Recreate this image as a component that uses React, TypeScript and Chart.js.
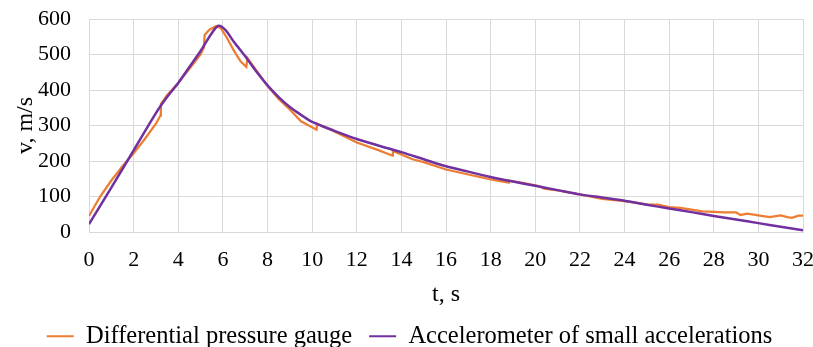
import React, { useEffect, useRef } from "react";
import { Chart, registerables } from "chart.js";

Chart.register(...registerables);

const orangeT = [0, 0.5, 1, 1.5, 2, 2.5, 3, 3.2, 3.22, 3.5, 4, 4.5, 5, 5.15, 5.18, 5.4, 5.7, 5.9, 6.2, 6.5, 6.8, 7.05, 7.1, 7.5, 8, 8.5, 9, 9.5, 10.2, 10.22, 11, 12, 13, 13.6, 13.62, 14.5, 15, 16, 17, 18, 18.8, 18.82, 19.5, 20.2, 20.4, 21, 22, 23, 24, 25, 25.5, 26, 26.5, 27, 27.5, 28, 28.5, 29, 29.2, 29.5, 30, 30.5, 31, 31.3, 31.5, 31.8, 32];
const orangeV = [45, 100, 145, 185, 222, 262, 305, 328, 360, 385, 420, 460, 500, 520, 555, 570, 580, 575, 545, 510, 480, 465, 490, 455, 412, 375, 345, 312, 288, 305, 283, 252, 230, 215, 228, 205, 197, 176, 162, 148, 139, 145, 138, 129, 122, 117, 106, 93, 87, 78, 77, 70, 68, 63, 58, 57, 55, 55, 48, 52, 47, 42, 47, 42, 40, 46, 46];

const purpleT = [0, 1, 2, 3, 3.5, 4, 4.5, 5, 5.5, 5.8, 6.1, 6.5, 7, 7.5, 8, 8.5, 9, 9.5, 10, 11, 12, 13, 14, 15, 16, 17, 18, 19, 20, 21, 22, 23, 24, 25, 26, 27, 28, 29, 30, 31, 32];
const purpleV = [22, 125, 230, 335, 380, 420, 465, 510, 560, 581, 570, 535, 495, 452, 413, 380, 352, 330, 310, 285, 262, 243, 225, 205, 185, 170, 155, 142, 130, 118, 106, 97, 88, 77, 66, 56, 45, 35, 25, 15, 5];

const seriesLabels = ["Differential pressure gauge", "Accelerometer of small accelerations"];
const xTitle = "t, s";
const yTitle = "v, m/s";

const ORANGE = "#ED7D31";
const PURPLE = "#7030A0";
const FONT = "'Liberation Serif', 'Times New Roman', serif";

const shiftLegend = {
  id: "shiftLegend",
  afterLayout(chart: any) {
    if (chart.legend) {
      chart.legend.left += 3;
      chart.legend.right += 3;
    }
  },
};

export default function App() {
  const ref = useRef<HTMLCanvasElement | null>(null);
  useEffect(() => {
    if (!ref.current) return;
    const chart = new Chart(ref.current, {
      type: "line",
      data: {
        datasets: [
          {
            label: seriesLabels[0],
            data: orangeT.map((t, i) => ({ x: t, y: orangeV[i] })),
            borderColor: ORANGE,
            backgroundColor: ORANGE,
            borderWidth: 2.25,
            pointRadius: 0,
            tension: 0,
            order: 2,
          },
          {
            label: seriesLabels[1],
            data: purpleT.map((t, i) => ({ x: t, y: purpleV[i] })),
            borderColor: PURPLE,
            backgroundColor: PURPLE,
            borderWidth: 2.5,
            pointRadius: 0,
            tension: 0.3,
            order: 1,
          },
        ],
      },
      plugins: [shiftLegend],
      options: {
        animation: false,
        responsive: false,
        maintainAspectRatio: false,
        layout: { padding: { top: 0, right: 0, bottom: -11.5, left: 0 } },
        plugins: {
          tooltip: { enabled: false },
          legend: {
            position: "bottom",
            labels: {
              font: { family: FONT, size: 24.5 },
              color: "#000",
              boxWidth: 27,
              boxHeight: 2,
              padding: 17,
              sort: (a: any, b: any) => a.datasetIndex - b.datasetIndex,
              generateLabels: (c: any) =>
                Chart.defaults.plugins.legend.labels.generateLabels(c).map((it: any) => ({
                  ...it,
                  lineWidth: 0,
                  fillStyle: it.strokeStyle,
                })),
            },
          },
        },
        scales: {
          x: {
            type: "linear",
            min: 0,
            max: 32,
            afterFit: (s: any) => {
              s.height = 75;
              s.paddingRight = 10;
              s.paddingLeft = 0;
            },
            ticks: {
              stepSize: 2,
              padding: 15,
              color: "#000",
              font: { family: FONT, size: 22 },
              maxRotation: 0,
            },
            grid: { color: "#d9d9d9", lineWidth: 1, drawTicks: false },
            border: { color: "#d9d9d9" },
            title: {
              display: true,
              text: xTitle,
              color: "#000",
              font: { family: FONT, size: 24 },
              padding: { top: 0, bottom: -2 },
            },
          },
          y: {
            min: 0,
            max: 600,
            afterFit: (s: any) => {
              s.width = 89;
              s.paddingTop = 19;
              s.paddingBottom = 0;
            },
            ticks: {
              stepSize: 100,
              padding: 18,
              color: "#000",
              font: { family: FONT, size: 22 },
            },
            grid: { color: "#d9d9d9", lineWidth: 1, drawTicks: false },
            border: { display: false },
            title: {
              display: true,
              text: yTitle,
              color: "#000",
              font: { family: FONT, size: 24 },
              padding: { top: 11, bottom: 0 },
            },
          },
        },
      },
    });
    return () => chart.destroy();
  }, []);
  return (
    <div style={{ position: "fixed", left: 0, top: 0, width: 813, height: 347, background: "#fff" }}>
      <canvas ref={ref} width={813} height={347} style={{ width: 813, height: 347 }} />
    </div>
  );
}
